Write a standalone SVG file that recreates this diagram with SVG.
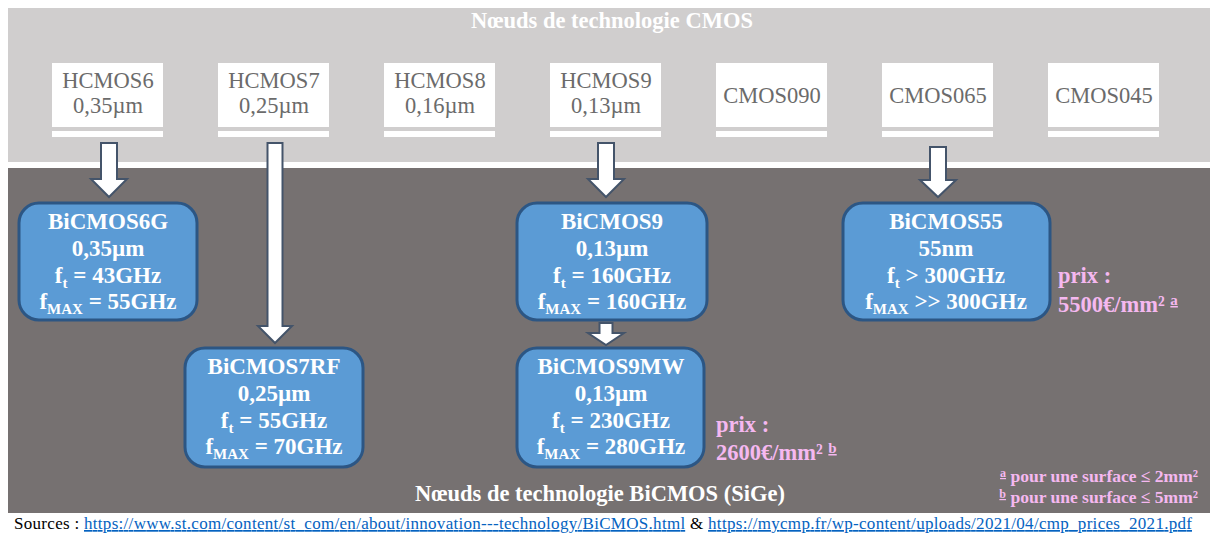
<svg xmlns="http://www.w3.org/2000/svg" width="1210" height="535" viewBox="0 0 1210 535">
<style>
.cbox{fill:#ffffff}
.ctxt{font-family:"Liberation Serif",serif;font-size:22.5px;fill:#6b6b6b;text-anchor:middle}
.bbox{fill:#5b9bd5;stroke:#2c5684;stroke-width:3}
.btxt{font-family:"Liberation Serif",serif;font-size:23px;font-weight:bold;fill:#ffffff;text-anchor:middle}
.sub{font-size:15px}
.arr{fill:#ffffff;stroke:#44546a;stroke-width:2;stroke-linejoin:miter}
.title{font-family:"Liberation Serif",serif;font-size:22.5px;font-weight:bold;fill:#ffffff;text-anchor:middle}
.price{font-family:"Liberation Serif",serif;font-size:22.5px;font-weight:bold;fill:#f5b8f0}
.note{font-family:"Liberation Serif",serif;font-size:17.5px;font-weight:bold;fill:#f5b8f0;text-anchor:end}
.src{font-family:"Liberation Serif",serif;font-size:17px;fill:#000000}
.lnk{fill:#0563c1;text-decoration:underline}
</style>
<rect x="0" y="0" width="1210" height="535" fill="#ffffff"/>
<rect id="cmos-band" x="8" y="8" width="1202" height="154" fill="#d0cece"/>
<rect id="bicmos-band" x="8" y="168" width="1202" height="345" fill="#767171"/>
<text class="title" x="612" y="28">Nœuds de technologie CMOS</text>
<text class="title" x="600" y="501">Nœuds de technologie BiCMOS (SiGe)</text>

<g id="HCMOS6"><rect class="cbox" x="52" y="63" width="111" height="64"/><rect class="cbox" x="52" y="131" width="111" height="6"/><text class="ctxt" x="108" y="88">HCMOS6</text><text class="ctxt" x="108" y="113">0,35µm</text></g>
<g id="HCMOS7"><rect class="cbox" x="218" y="63" width="111" height="64"/><rect class="cbox" x="218" y="131" width="111" height="6"/><text class="ctxt" x="274" y="88">HCMOS7</text><text class="ctxt" x="274" y="113">0,25µm</text></g>
<g id="HCMOS8"><rect class="cbox" x="384" y="63" width="111" height="64"/><rect class="cbox" x="384" y="131" width="111" height="6"/><text class="ctxt" x="440" y="88">HCMOS8</text><text class="ctxt" x="440" y="113">0,16µm</text></g>
<g id="HCMOS9"><rect class="cbox" x="550" y="63" width="111" height="64"/><rect class="cbox" x="550" y="131" width="111" height="6"/><text class="ctxt" x="606" y="88">HCMOS9</text><text class="ctxt" x="606" y="113">0,13µm</text></g>
<g id="CMOS090"><rect class="cbox" x="716" y="63" width="111" height="64"/><rect class="cbox" x="716" y="131" width="111" height="6"/><text class="ctxt" x="772" y="103">CMOS090</text></g>
<g id="CMOS065"><rect class="cbox" x="882" y="63" width="111" height="64"/><rect class="cbox" x="882" y="131" width="111" height="6"/><text class="ctxt" x="938" y="103">CMOS065</text></g>
<g id="CMOS045"><rect class="cbox" x="1048" y="63" width="111" height="64"/><rect class="cbox" x="1048" y="131" width="111" height="6"/><text class="ctxt" x="1104" y="103">CMOS045</text></g>

<g id="connectors">
<path class="arr" d="M101,143 H117 V179 H127 L109,197 L91,179 H101 Z"/>
<path class="arr" d="M267.5,143 H282.5 V326 H292 L275,343 L258,326 H267.5 Z"/>
<path class="arr" d="M598,143 H614 V179 H624 L606,197 L588,179 H598 Z"/>
<path class="arr" d="M930,147 H946 V180 H956 L938,197 L920,180 H930 Z"/>
<path class="arr" d="M599.5,323 H612.5 V333 H624 L606,345 L588,333 H599.5 Z"/>
</g>

<g id="BiCMOS6G"><rect class="bbox" x="19" y="203" width="178" height="117" rx="20"/>
<text class="btxt" x="108" y="229">BiCMOS6G</text>
<text class="btxt" x="108" y="256">0,35µm</text>
<text class="btxt" x="108" y="283">f<tspan class="sub" dy="5">t</tspan><tspan dy="-5"> = 43GHz</tspan></text>
<text class="btxt" x="108" y="309">f<tspan class="sub" dy="5">MAX</tspan><tspan dy="-5"> = 55GHz</tspan></text></g>

<g id="BiCMOS7RF"><rect class="bbox" x="185" y="348" width="178" height="119" rx="20"/>
<text class="btxt" x="274" y="374">BiCMOS7RF</text>
<text class="btxt" x="274" y="401">0,25µm</text>
<text class="btxt" x="274" y="428">f<tspan class="sub" dy="5">t</tspan><tspan dy="-5"> = 55GHz</tspan></text>
<text class="btxt" x="274" y="454">f<tspan class="sub" dy="5">MAX</tspan><tspan dy="-5"> = 70GHz</tspan></text></g>

<g id="BiCMOS9"><rect class="bbox" x="517" y="203" width="190" height="117" rx="20"/>
<text class="btxt" x="612" y="229">BiCMOS9</text>
<text class="btxt" x="612" y="256">0,13µm</text>
<text class="btxt" x="612" y="283">f<tspan class="sub" dy="5">t</tspan><tspan dy="-5"> = 160GHz</tspan></text>
<text class="btxt" x="612" y="309">f<tspan class="sub" dy="5">MAX</tspan><tspan dy="-5"> = 160GHz</tspan></text></g>

<g id="BiCMOS9MW"><rect class="bbox" x="517" y="348" width="187" height="119" rx="20"/>
<text class="btxt" x="611" y="374">BiCMOS9MW</text>
<text class="btxt" x="611" y="401">0,13µm</text>
<text class="btxt" x="611" y="428">f<tspan class="sub" dy="5">t</tspan><tspan dy="-5"> = 230GHz</tspan></text>
<text class="btxt" x="611" y="454">f<tspan class="sub" dy="5">MAX</tspan><tspan dy="-5"> = 280GHz</tspan></text></g>

<g id="BiCMOS55"><rect class="bbox" x="843" y="203" width="207" height="117" rx="20"/>
<text class="btxt" x="946" y="229">BiCMOS55</text>
<text class="btxt" x="946" y="256">55nm</text>
<text class="btxt" x="946" y="283">f<tspan class="sub" dy="5">t</tspan><tspan dy="-5"> &gt; 300GHz</tspan></text>
<text class="btxt" x="946" y="309">f<tspan class="sub" dy="5">MAX</tspan><tspan dy="-5"> &gt;&gt; 300GHz</tspan></text></g>

<g id="price-55">
<text class="price" x="1058" y="283">prix :</text>
<text class="price" x="1058" y="312">5500€/mm² <tspan font-size="15" text-decoration="underline" dy="-7">a</tspan></text>
</g>
<g id="price-9MW">
<text class="price" x="716" y="432">prix :</text>
<text class="price" x="716" y="460">2600€/mm² <tspan font-size="15" text-decoration="underline" dy="-7">b</tspan></text>
</g>
<g id="footnotes">
<text class="note" x="1198" y="482"><tspan font-size="12" text-decoration="underline" dy="-5">a</tspan><tspan dy="5"> pour une surface ≤ 2mm²</tspan></text>
<text class="note" x="1198" y="503"><tspan font-size="12" text-decoration="underline" dy="-5">b</tspan><tspan dy="5"> pour une surface ≤ 5mm²</tspan></text>
</g>
<text class="src" x="14" y="529" textLength="1178" lengthAdjust="spacing">Sources : <tspan class="lnk">https://www.st.com/content/st_com/en/about/innovation---technology/BiCMOS.html</tspan> &amp; <tspan class="lnk">https://mycmp.fr/wp-content/uploads/2021/04/cmp_prices_2021.pdf</tspan></text>
</svg>
